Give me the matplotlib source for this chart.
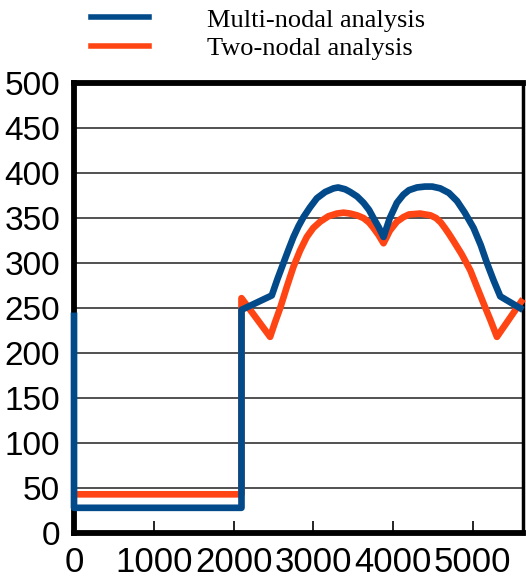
import matplotlib
matplotlib.use("Agg")
import matplotlib.pyplot as plt
from matplotlib.lines import Line2D

# Multi-nodal analysis (blue)
multi_x = [0, 0, 2100, 2100, 2480, 2550, 2626, 2690, 2752, 2815, 2877, 2960,
           3045, 3150, 3254, 3312, 3400, 3463, 3550, 3630, 3700, 3755, 3820,
           3881, 3960, 4049, 4130, 4200, 4300, 4400, 4492, 4592, 4700, 4802,
           4900, 5010, 5100, 5178, 5260, 5345, 5630]
multi_y = [245, 28, 28, 248, 264, 282, 300, 315, 329, 341, 351, 362,
           372, 379, 383, 384, 382, 379, 374, 367, 359, 350, 340,
           329, 350, 367, 376, 381, 384, 385, 385, 383, 378, 369,
           356, 339, 320, 300, 281, 263, 248]

# Two-nodal analysis (orange)
two_x = [0, 2100, 2100, 2459, 2520, 2585, 2670, 2752, 2835, 2919, 3000, 3087,
         3190, 3296, 3380, 3463, 3550, 3630, 3700, 3755, 3820, 3881, 3960,
         4049, 4130, 4200, 4341, 4470, 4540, 4600, 4650, 4697, 4755, 4860,
         4969, 5050, 5136, 5220, 5303, 5630]
two_y = [43, 43, 261, 218, 234, 250, 274, 296, 314, 329, 339, 346,
         352, 355, 356, 355, 353, 350, 345, 339, 331, 322, 336,
         346, 351, 354, 355, 353, 350, 345, 339, 333, 325, 310,
         292, 274, 255, 237, 218, 260]

labels = ["Multi-nodal analysis", "Two-nodal analysis"]
colors = ["#034a8a", "#ff4514"]

x_ticks = [0, 1000, 2000, 3000, 4000, 5000]
y_ticks = list(range(0, 501, 50))

fig = plt.figure(figsize=(5.26, 5.81), dpi=100)
ax = fig.add_axes([0.1407, 0.0826, 0.8536, 0.7744])

ax.plot(multi_x, multi_y, color=colors[0], lw=4.8, solid_joinstyle="round",
        solid_capstyle="butt", zorder=4, clip_on=False)
ax.plot(two_x, two_y, color=colors[1], lw=4.8, solid_joinstyle="round",
        solid_capstyle="butt", zorder=3, clip_on=False)

ax.set_xlim(0, 5630)
ax.set_ylim(0, 500)
ax.set_xticks(x_ticks)
ax.set_yticks(y_ticks)
ax.yaxis.grid(True, color="#333333", lw=1.2)
ax.set_axisbelow(True)

for side in ["left", "top", "bottom"]:
    ax.spines[side].set_linewidth(4.2)
ax.spines["right"].set_linewidth(2.5)

ax.tick_params(axis="x", direction="in", length=9, width=1.2, pad=9)
ax.tick_params(axis="y", direction="in", length=0, pad=10)
for lab in ax.get_xticklabels():
    lab.set_family("Liberation Sans")
    lab.set_fontsize(25)
for lab in ax.get_yticklabels():
    lab.set_family("Liberation Sans")
    lab.set_fontsize(24)

handles = [Line2D([], [], color=c, lw=4) for c in colors]
fig.legend(handles, labels, loc="upper left", bbox_to_anchor=(0.127, 1.027),
           frameon=False, handlelength=2.2, handletextpad=2.2,
           labelspacing=0.2,
           prop={"family": "Liberation Serif", "size": 19})

fig.savefig("out.png", dpi=100)
